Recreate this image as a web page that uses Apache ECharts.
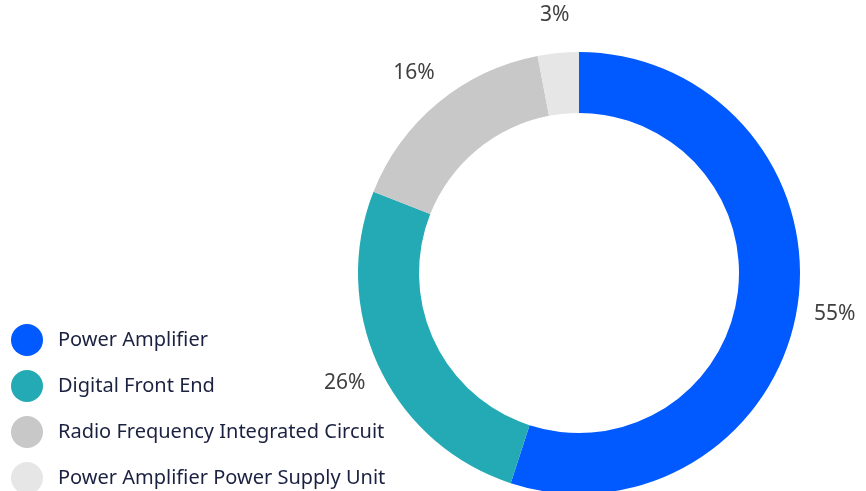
<!DOCTYPE html>
<html>
<head>
<meta charset="utf-8">
<script src="https://cdn.jsdelivr.net/npm/echarts@6/dist/echarts.min.js"></script>
<style>
  html, body { margin: 0; padding: 0; background: #fff; }
</style>
</head>
<body>
<div id="main" style="width: 866px; height: 491px"></div>
<script>
var categories = [
  "Power Amplifier",
  "Digital Front End",
  "Radio Frequency Integrated Circuit",
  "Power Amplifier Power Supply Unit"
];
var shares = [55, 26, 16, 3];
var colors = ["#005aff", "#23aab4", "#c8c8c8", "#e6e6e6"];

var myChart = echarts.init(document.getElementById("main"));

var pieData = categories.map(function (name, i) {
  return { name: name, value: shares[i] };
});

var option = {
  animation: false,
  color: colors,
  legend: {
    orient: "vertical",
    left: 11,
    top: 324,
    height: 300,
    padding: 0,
    icon: "circle",
    itemWidth: 32,
    itemHeight: 32,
    itemGap: 14,
    selectedMode: false,
    data: categories,
    textStyle: {
      fontFamily: "Noto Sans",
      fontSize: 20,
      color: "#1b2140",
      padding: [0, 0, 0, 10]
    }
  },
  series: [
    {
      name: "share",
      type: "pie",
      center: [579, 273],
      radius: [160, 221],
      startAngle: 90,
      clockwise: true,
      label: { show: false },
      labelLine: { show: false },
      data: pieData
    },
    {
      // invisible ring used only to place the percentage labels
      name: "labels",
      type: "pie",
      center: [579, 273],
      radius: [254, 258],
      startAngle: 90,
      clockwise: true,
      silent: true,
      itemStyle: { color: "rgba(0,0,0,0)" },
      label: {
        show: true,
        position: "inside",
        formatter: "{c}%",
        fontFamily: "Noto Sans",
        fontSize: 21,
        color: "#404040"
      },
      labelLine: { show: false },
      data: pieData
    }
  ]
};

option && myChart.setOption(option);
</script>
</body>
</html>
